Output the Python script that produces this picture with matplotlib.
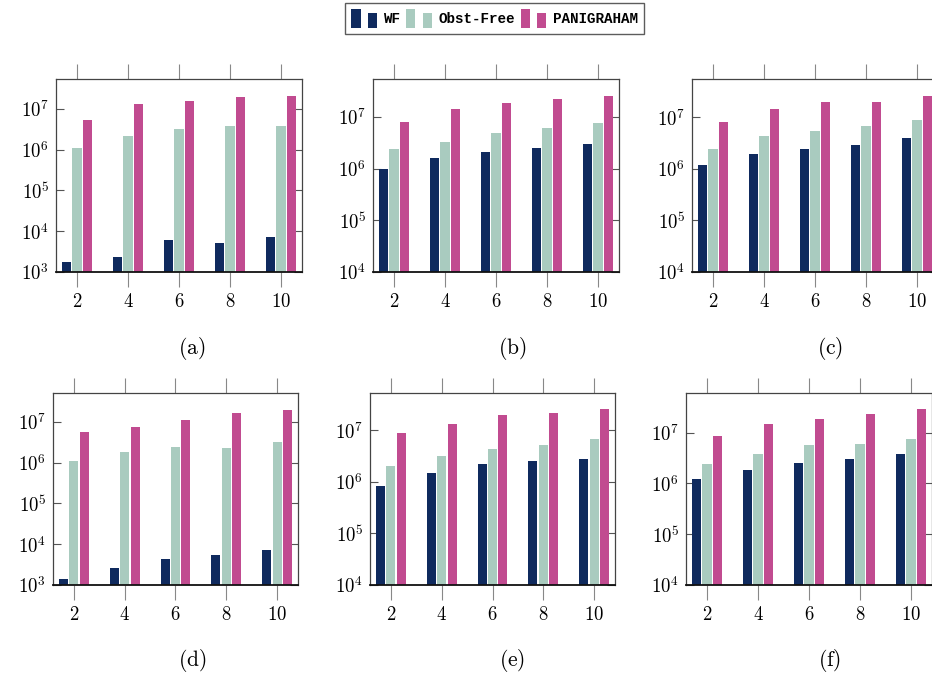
import numpy as np
import matplotlib
matplotlib.use("Agg")
import matplotlib.pyplot as plt
from matplotlib.patches import Rectangle, Patch
from matplotlib.legend_handler import HandlerBase
from matplotlib.ticker import FixedLocator, FuncFormatter, NullLocator

plt.rcParams['mathtext.fontset'] = 'cm'
plt.rcParams['font.family'] = 'DejaVu Serif'

x = [2, 4, 6, 8, 10]
series_names = ['WF', 'Obst-Free', 'PANIGRAHAM']
colors = ['#0f2a5e', '#a9cbbf', '#c14b90']

# values (a)..(f)
wf_a = [1.8e3, 2.3e3, 6.0e3, 5.0e3, 7.3e3]
obst_a = [1.1e6, 2.1e6, 3.2e6, 3.7e6, 3.7e6]
pan_a = [5.4e6, 1.28e7, 1.57e7, 1.9e7, 2.04e7]

wf_b = [1.0e6, 1.6e6, 2.1e6, 2.5e6, 3.05e6]
obst_b = [2.4e6, 3.3e6, 5.0e6, 6.0e6, 7.8e6]
pan_b = [7.9e6, 1.45e7, 1.9e7, 2.22e7, 2.55e7]

wf_c = [1.17e6, 1.94e6, 2.43e6, 2.9e6, 3.96e6]
obst_c = [2.46e6, 4.26e6, 5.4e6, 6.9e6, 8.7e6]
pan_c = [8.0e6, 1.47e7, 2.0e7, 2.0e7, 2.57e7]

wf_d = [1.4e3, 2.66e3, 4.26e3, 5.5e3, 7.4e3]
obst_d = [1.08e6, 1.87e6, 2.46e6, 2.34e6, 3.3e6]
pan_d = [5.6e6, 7.7e6, 1.1e7, 1.63e7, 2.0e7]

wf_e = [8.4e5, 1.46e6, 2.23e6, 2.5e6, 2.8e6]
obst_e = [2.06e6, 3.1e6, 4.4e6, 5.1e6, 6.7e6]
pan_e = [9.0e6, 1.29e7, 2.0e7, 2.16e7, 2.57e7]

wf_f = [1.22e6, 1.87e6, 2.5e6, 3.03e6, 3.86e6]
obst_f = [2.42e6, 3.86e6, 5.7e6, 5.9e6, 7.5e6]
pan_f = [8.6e6, 1.48e7, 1.89e7, 2.33e7, 2.89e7]

panel_labels = ['a', 'b', 'c', 'd', 'e', 'f']
panel_data = [(wf_a, obst_a, pan_a), (wf_b, obst_b, pan_b), (wf_c, obst_c, pan_c),
              (wf_d, obst_d, pan_d), (wf_e, obst_e, pan_e), (wf_f, obst_f, pan_f)]
ylims = [(1e3, 10**7.73), (1e4, 10**7.735), (1e4, 10**7.74),
         (1e3, 10**7.71), (1e4, 10**7.72), (1e4, 10**7.78)]

W, H = 932, 675
fig = plt.figure(figsize=(W / 100, H / 100), dpi=100)

# axes boxes in pixels: left, top, right, bottom
boxes = [(56, 79, 302, 272), (373, 79, 619, 272), (692, 79, 938, 272),
         (53, 393, 298, 585), (370, 393, 615, 585), (686, 393, 932, 585)]
caption_pos = [(192, 349), (512, 349), (830, 349), (192, 660), (512, 660), (830, 660)]

bw = 0.36
offs = [-0.41, 0.0, 0.41]

for k in range(6):
    l, t, r, b = boxes[k]
    ax = fig.add_axes([l / W, 1 - b / H, (r - l) / W, (b - t) / H])
    ax.set_yscale('log')
    lo, hi = ylims[k]
    ax.set_ylim(lo, hi)
    ax.set_xlim(1.18, 10.82)
    for s in range(3):
        vals = np.array(panel_data[k][s])
        ax.bar(np.array(x) + offs[s], vals - lo, bw, bottom=lo, color=colors[s],
               linewidth=0, zorder=2)
    decs = range(int(round(np.log10(lo))), 8)
    ax.yaxis.set_major_locator(FixedLocator([10.0 ** d for d in decs]))
    ax.yaxis.set_minor_locator(NullLocator())
    ax.yaxis.set_major_formatter(FuncFormatter(lambda v, p: r'$10^{%d}$' % int(round(np.log10(v)))))
    ax.set_xticks(x)
    ax.set_xticklabels([r'$%d$' % v for v in x])
    ax.tick_params(axis='y', which='both', direction='in', length=6, width=0.8,
                   color='#555555', left=True, right=True, labelsize=13.5, pad=5)
    ax.tick_params(axis='x', direction='out', length=11, width=0.8, color='#888888',
                   top=True, bottom=True, labelsize=13.5, pad=4)
    for sp in ['left', 'top', 'right']:
        ax.spines[sp].set_color('#444444')
        ax.spines[sp].set_linewidth(0.9)
    ax.spines['bottom'].set_color('#111111')
    ax.spines['bottom'].set_linewidth(1.3)
    ax.spines['bottom'].set_zorder(3)
    cx, cy = caption_pos[k]
    fig.text(cx / W, 1 - cy / H, r'$(\mathrm{%s})$' % panel_labels[k], ha='center',
             va='center', fontsize=15.5)


class TwoBars(HandlerBase):
    def create_artists(self, legend, orig_handle, xdescent, ydescent, width,
                       height, fontsize, trans):
        w = width * 0.36
        fc = orig_handle.get_facecolor()
        r1 = Rectangle((-xdescent, -ydescent), w, height, facecolor=fc,
                       edgecolor='none', transform=trans)
        r2 = Rectangle((-xdescent + width - w, -ydescent), w, height * 0.78,
                       facecolor=fc, edgecolor='none', transform=trans)
        return [r1, r2]


handles = [Patch(facecolor=c) for c in colors]
leg = fig.legend(handles, series_names, loc='upper center',
                 bbox_to_anchor=(494.5 / W, 1 - 3 / H), ncol=3,
                 handler_map={Patch: TwoBars()},
                 prop={'family': 'Liberation Mono', 'size': 10.3, 'weight': 'bold'},
                 handlelength=1.8, handleheight=1.6, handletextpad=0.45,
                 columnspacing=0.4, borderpad=0.45, borderaxespad=0,
                 fancybox=False, frameon=True)
leg.get_frame().set_edgecolor('#333333')
leg.get_frame().set_linewidth(1.0)

fig.savefig('out.png', dpi=100)
